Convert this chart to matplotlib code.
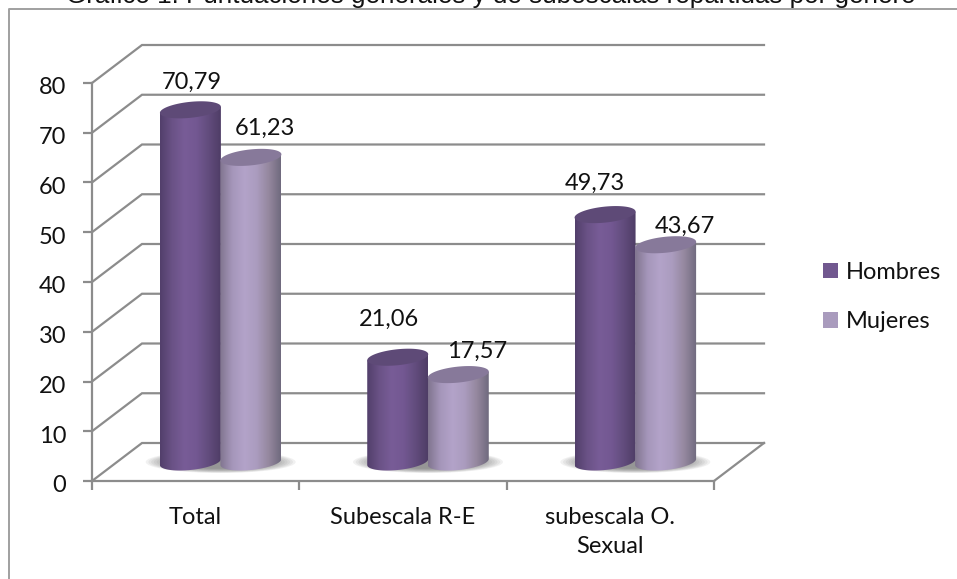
import numpy as np
import matplotlib
matplotlib.use("Agg")
import matplotlib.pyplot as plt
from matplotlib.colors import LinearSegmentedColormap
from matplotlib.patches import Ellipse, Patch, Polygon
from matplotlib.transforms import ScaledTranslation

categories = ["Total", "Subescala R-E", "subescala O.\nSexual"]
hombres = [70.79, 21.06, 49.73]
mujeres = [61.23, 17.57, 43.67]
yticks = [0, 10, 20, 30, 40, 50, 60, 70, 80]

W, H = 957, 579
# zona del grafico en pixeles
X0, X1, Y0, Y1 = 92, 714, 481, 83
PX = (X1 - X0) / len(categories)
PY = (Y0 - Y1) / 80
DEPTH_X = 50 / PX
DEPTH_Y = 38 / PY
BAR_W = 30.5 / PX
BAR_RY = 8 / PY
BAR_TILT = 3.0 / PY
GRID = "#8c8c8c"
FS = 17

plt.rcParams["font.family"] = ["Lato", "DejaVu Sans"]

fig = plt.figure(figsize=(W / 100, H / 100), dpi=100)
ax = fig.add_axes([X0 / W, 1 - Y0 / H, (X1 - X0) / W, (Y0 - Y1) / H])
ax.patch.set_alpha(0)

cm_h = LinearSegmentedColormap.from_list("h", ["#523f6b", "#6a5286", "#785c97", "#735892", "#624c7d", "#4f3d66"])
cm_m = LinearSegmentedColormap.from_list("m", ["#81758f", "#a596ba", "#b3a3c9", "#ab9cbf", "#95889f", "#706a7e"])


def cylinder(cx, value, cmap, top_color):
    t = np.linspace(np.pi, 2 * np.pi, 40)
    cy0 = DEPTH_Y / 2
    cy1 = cy0 + value
    bx = cx + BAR_W * np.cos(t)
    by = cy0 + BAR_RY * np.sin(t) + BAR_TILT * np.cos(t)
    tx = cx + BAR_W * np.cos(t[::-1])
    ty = cy1 + BAR_TILT * np.cos(t[::-1])
    body = Polygon(np.column_stack([np.r_[bx, tx], np.r_[by, ty]]), closed=True, fc="none", ec="none", clip_on=False)
    ax.add_patch(body)
    grad = np.linspace(0, 1, 128).reshape(1, -1)
    im = ax.imshow(grad, cmap=cmap, aspect="auto", zorder=4,
                   extent=[cx - BAR_W, cx + BAR_W, -5, cy1 + 5])
    im.set_clip_box(fig.bbox)
    im.set_clip_path(body)
    t = np.linspace(0, 2 * np.pi, 80)
    top = Polygon(np.column_stack([cx + BAR_W * np.cos(t),
                                   cy1 + BAR_RY * np.sin(t) + BAR_TILT * np.cos(t)]),
                  closed=True, fc=top_color, ec="none", zorder=4, clip_on=False)
    ax.add_patch(top)


def shadow(cx):
    for k in np.linspace(1, 0.6, 12):
        ax.add_patch(Ellipse((cx, DEPTH_Y / 2), 2 * 75 / PX * k, 2 * 11 / PY * k,
                             fc="#6a6a6a", ec="none", alpha=0.09, zorder=3, clip_on=False))


# paredes y lineas de division
for v in yticks:
    ax.plot([0, DEPTH_X, 3 + DEPTH_X], [v, v + DEPTH_Y, v + DEPTH_Y], color=GRID, lw=1.6, zorder=1,
            clip_on=False, solid_joinstyle="miter")
ax.plot([3, 3 + DEPTH_X], [0, DEPTH_Y], color=GRID, lw=1.6, zorder=1, clip_on=False)

pos = np.arange(len(categories))
for i in pos:
    c = i + 0.5 + DEPTH_X / 2
    shadow(c)
    cylinder(c - 0.146, hombres[i], cm_h, "#5e4a77")
    cylinder(c + 0.146, mujeres[i], cm_m, "#87799a")

# desplazamiento de las etiquetas respecto a la tapa, en pixeles
h_off = [(1, 27), (-9, 38), (-10, 31)]
m_off = [(14, 29), (19, 23), (19, 18)]
for i in pos:
    c = i + 0.5 + DEPTH_X / 2
    for x, v, off in ((c - 0.146, hombres[i], h_off[i]), (c + 0.146, mujeres[i], m_off[i])):
        ax.annotate(f"{v:.2f}".replace(".", ","), (x, v + DEPTH_Y / 2), xytext=(off[0] * 0.72, off[1] * 0.72),
                    textcoords="offset points", ha="center", va="center", fontsize=FS,
                    color="#111111", zorder=6, annotation_clip=False)

ax.set_xlim(0, 3)
ax.set_ylim(0, 80)
ax.set_xticks(range(4))
ax.set_xticklabels([])
ax.set_xticks(pos + 0.5, categories, minor=True, linespacing=1.45)
ax.set_yticks(yticks)
ax.tick_params(axis="both", which="major", color=GRID, width=1.6, length=6.5, labelsize=FS, labelcolor="#111111")
ax.tick_params(axis="x", which="minor", length=0, labelsize=FS, labelcolor="#111111", pad=19)
ax.tick_params(axis="y", pad=12)
for lab in ax.get_yticklabels():
    lab.set_transform(lab.get_transform() + ScaledTranslation(0, -2 / 72, fig.dpi_scale_trans))
for s in ("top", "right"):
    ax.spines[s].set_visible(False)
for s in ("left", "bottom"):
    ax.spines[s].set_color(GRID)
    ax.spines[s].set_linewidth(1.6)

handles = [Patch(fc="#71588f", label="Hombres"), Patch(fc="#a99bbd", label="Mujeres")]
fig.legend(handles=handles, loc="center left", bbox_to_anchor=(823 / W, 1 - 297 / H), frameon=False,
           fontsize=FS, handlelength=0.64, handleheight=0.64, handletextpad=0.34, labelspacing=1.2,
           borderpad=0, borderaxespad=0, labelcolor="#111111")

# recuadro exterior, abierto por la derecha y por abajo
fig.add_artist(plt.Line2D([9 / W, 9 / W, 1], [0, 1 - 9 / H, 1 - 9 / H], color="#a0a0a0", lw=1.4))

fig.text(491 / W, 1 - 3 / H, "Gráfico 1: Puntuaciones generales y de subescalas repartidas por género",
         ha="center", va="baseline", fontsize=18.7, family="Liberation Sans", color="#111111")

fig.savefig("out.png", dpi=100)
